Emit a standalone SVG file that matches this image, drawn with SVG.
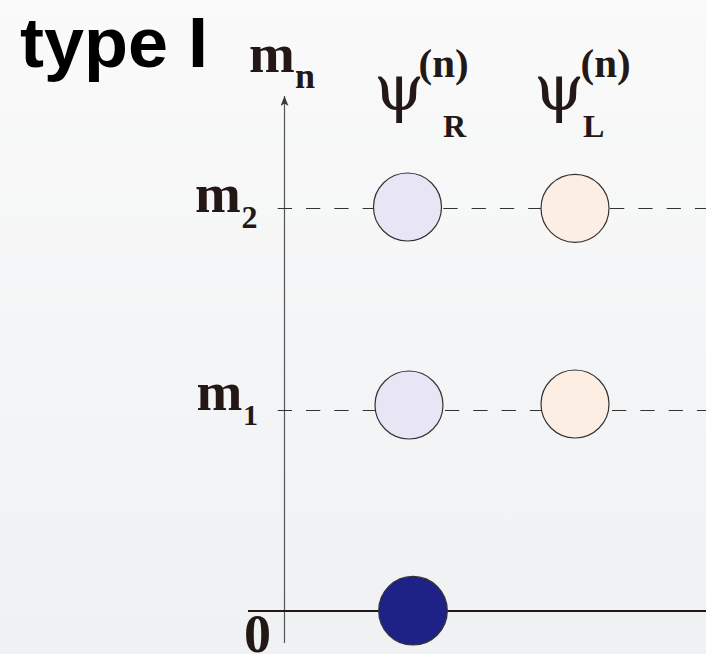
<svg xmlns="http://www.w3.org/2000/svg" width="706" height="654" viewBox="0 0 706 654">
<defs>
<linearGradient id="bg" x1="0" y1="0" x2="0" y2="1">
<stop offset="0" stop-color="#fafafa"/>
<stop offset="1" stop-color="#eff1f3"/>
</linearGradient>
<marker id="arr" viewBox="0 0 10 8" refX="10" refY="4" markerWidth="10" markerHeight="8" markerUnits="userSpaceOnUse" orient="auto">
<path d="M0,0 L10,4 L0,8 L2.5,4 Z" fill="#3a3a3a"/>
</marker>
<style>
.title{font-family:"Liberation Sans",Arial,sans-serif;font-weight:bold;font-size:70px;fill:#000}
.m{font-family:"Liberation Serif","Times New Roman",serif;font-weight:bold;fill:#231815}
.psi{font-family:"DejaVu Serif","Liberation Serif",serif;fill:#231815}
.dash{stroke:#333;stroke-width:1;stroke-dasharray:14.3 14;fill:none}
.cR{fill:#e8e6f4;stroke:#333;stroke-width:1.2}
.cL{fill:#fdeee4;stroke:#333;stroke-width:1.2}
.c0{fill:#1e2185;stroke:#333;stroke-width:1.2}
</style>
</defs>
<rect x="0" y="0" width="706" height="654" fill="url(#bg)"/>
<text class="title" x="20" y="67" textLength="188" lengthAdjust="spacingAndGlyphs">type I</text>
<g id="connectors">
<line x1="284.5" y1="643" x2="284.5" y2="96" stroke="#555" stroke-width="1.2" marker-end="url(#arr)"/>
<line x1="248" y1="611" x2="706" y2="611" stroke="#231815" stroke-width="2"/>
<line class="dash" x1="277.7" y1="208.5" x2="374" y2="208.5"/>
<line class="dash" x1="443.3" y1="208.5" x2="541" y2="208.5"/>
<line class="dash" x1="610" y1="208.5" x2="706" y2="208.5"/>
<line class="dash" x1="277.7" y1="410.5" x2="375" y2="410.5"/>
<line class="dash" x1="445" y1="410.5" x2="541" y2="410.5"/>
<line class="dash" x1="612" y1="410.5" x2="706" y2="410.5"/>
</g>
<g id="axis-label">
<text class="m" x="249" y="72" font-size="55">m</text>
<text class="m" x="295" y="88" font-size="36">n</text>
</g>
<g id="label-m2">
<text class="m" x="195" y="212" font-size="55">m</text>
<text class="m" x="241.5" y="228" font-size="32">2</text>
</g>
<g id="label-m1">
<text class="m" x="196.5" y="410" font-size="55">m</text>
<text class="m" x="243" y="425" font-size="30">1</text>
</g>
<g id="label-0">
<text class="m" x="244" y="651.5" font-size="54">0</text>
</g>
<g id="header-R">
<text class="psi" x="374" y="110" font-size="64">ψ</text>
<text class="m" x="418.5" y="77" font-size="41">(n)</text>
<text class="m" x="443" y="136.5" font-size="32">R</text>
</g>
<g id="header-L">
<text class="psi" x="534" y="110" font-size="64">ψ</text>
<text class="m" x="580.5" y="77" font-size="41">(n)</text>
<text class="m" x="583" y="136.5" font-size="32">L</text>
</g>
<g id="psiR-m2"><circle class="cR" cx="407.5" cy="207" r="34"/></g>
<g id="psiL-m2"><circle class="cL" cx="575" cy="208.3" r="34"/></g>
<g id="psiR-m1"><circle class="cR" cx="409" cy="405" r="34"/></g>
<g id="psiL-m1"><circle class="cL" cx="575" cy="404" r="34"/></g>
<g id="psiR-0"><circle class="c0" cx="413" cy="610.7" r="34.3"/></g>
</svg>
